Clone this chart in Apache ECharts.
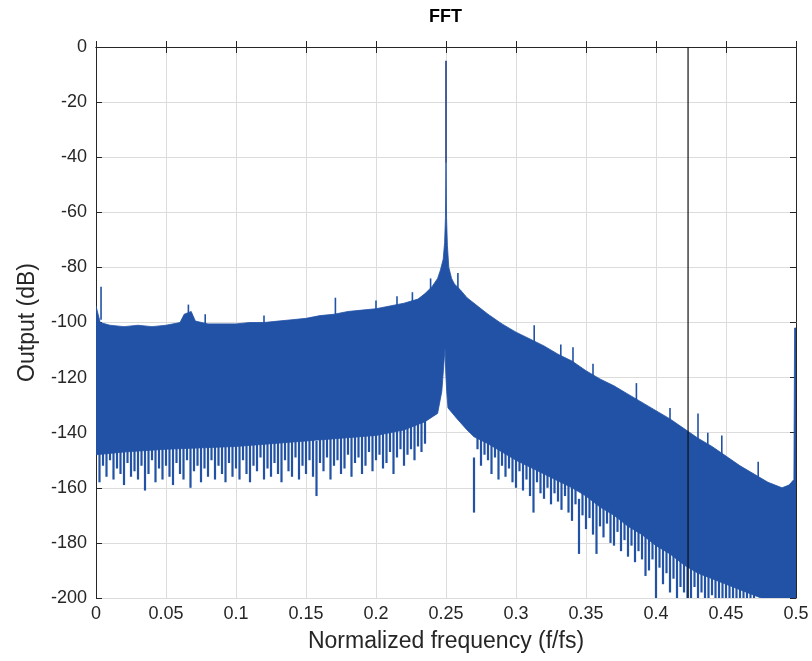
<!DOCTYPE html>
<html>
<head>
<meta charset="utf-8">
<script src="https://cdn.jsdelivr.net/npm/echarts@6/dist/echarts.min.js"></script>
<style>
html,body{margin:0;padding:0;background:#fff;}
#chart{width:812px;height:661px;}
</style>
</head>
<body>
<div id="chart"></div>
<script>
// ---- data ----
var titleText = 'FFT';
var xName = 'Normalized frequency (f/fs)';
var yName = 'Output (dB)';
var xTicks = [0, 0.05, 0.1, 0.15, 0.2, 0.25, 0.3, 0.35, 0.4, 0.45, 0.5];
var yTicks = [-200, -180, -160, -140, -120, -100, -80, -60, -40, -20, 0];

// upper envelope of the spectrum
var freqU = [0, 0.003, 0.01, 0.02, 0.03, 0.04, 0.05, 0.06, 0.063, 0.068, 0.071, 0.08, 0.09, 0.1, 0.11, 0.12, 0.13, 0.14, 0.15, 0.16, 0.17, 0.18, 0.19, 0.2, 0.21, 0.22, 0.23, 0.235, 0.24, 0.244, 0.246, 0.248, 0.249, 0.2496, 0.2499, 0.2501, 0.2504, 0.251, 0.252, 0.254, 0.256, 0.26, 0.265, 0.27, 0.28, 0.29, 0.3, 0.31, 0.32, 0.33, 0.34, 0.35, 0.36, 0.37, 0.38, 0.39, 0.4, 0.41, 0.42, 0.43, 0.44, 0.45, 0.46, 0.47, 0.48, 0.49, 0.495, 0.4985, 0.499, 0.5];
var upperU = [-94, -100, -101, -101.5, -101, -101.5, -101, -100, -97, -96, -99.5, -100.5, -100.5, -100.5, -100, -100, -99.5, -99, -98.5, -97.5, -97, -96, -95.5, -95, -94, -93, -91.5, -89.5, -87, -84, -81, -77, -71, -62, -42, -42, -62, -72, -80, -84, -86, -88, -91, -93, -97, -100.5, -103.5, -106, -108.5, -111.5, -114, -117.5, -120.5, -123, -126, -129, -132, -135, -138.5, -142, -145, -148.5, -152, -155, -158, -160, -159, -157, -102, -102];

// lower envelope of the spectrum
var freqL = [0, 0.02, 0.05, 0.1, 0.15, 0.2, 0.22, 0.235, 0.244, 0.247, 0.2485, 0.2493, 0.2498, 0.2505, 0.2514, 0.258, 0.265, 0.27, 0.28, 0.3, 0.32, 0.34, 0.35, 0.36, 0.37, 0.38, 0.39, 0.4, 0.41, 0.42, 0.43, 0.44, 0.45, 0.46, 0.47, 0.475, 0.5];
var lowerL = [-148, -147, -146, -145, -143, -141, -139, -136, -133, -125, -115, -109, -118, -125, -131, -135, -139, -141.5, -144, -150, -155, -160, -163, -167, -170, -174, -177, -181, -184, -188, -191, -193, -195, -197, -199, -200, -200];

// isolated upward spikes above the upper envelope
var upSpikeF = [0.0036, 0.066, 0.078, 0.12, 0.171, 0.2, 0.215, 0.226, 0.239, 0.2585, 0.313, 0.332, 0.3407, 0.355, 0.386, 0.41, 0.43, 0.437, 0.447, 0.473];
var upSpikeV = [-87, -93.5, -97, -97.5, -91, -92, -90.5, -89, -84, -82, -101, -108, -109, -115, -122, -131, -133, -140, -141, -150.5];

// downward spikes below the lower envelope, left of the tone (0.0025 .. 0.235)
var lowSpikeLeftStart = 0.0025;
var lowSpikeLeft = [
  -158, -152, -156, -150, -157, -153, -155, -159, -151, -156,
  -154, -157, -152, -161, -155, -150, -158, -153, -157, -152,
  -156, -159, -151, -155, -157, -150, -160, -154, -152, -158,
  -153, -156, -150, -157, -152, -155, -158, -151, -156, -153,
  -157, -150, -155, -158, -152, -154, -149, -157, -153, -156,
  -151, -155, -158, -150, -154, -156, -149, -157, -152, -155,
  -150, -156, -163, -151, -154, -149, -157, -152, -150, -155,
  -153, -148, -156, -151, -149, -155, -152, -147, -154, -150,
  -148, -153, -151, -147, -155, -149, -146, -152, -148, -146,
  -150, -145, -147, -144
];
// downward spikes right of the tone (0.27 .. 0.47)
var lowSpikeRightStart = 0.27;
var lowSpikeRight = [
  -169, -146, -152, -148, -150, -155, -149, -157, -152, -156,
  -153, -158, -160, -154, -161, -157, -163, -169, -158, -162,
  -164, -160, -166, -162, -165, -168, -163, -169, -172, -166,
  -184, -170, -175, -171, -177, -184, -174, -178, -173, -180,
  -181, -176, -183, -179, -185, -181, -187, -183, -186, -192,
  -190, -186, -200, -189, -195, -191, -198, -193, -200, -196,
  -198, -200, -200, -196, -200, -198, -200, -200, -199, -200,
  -200, -200, -200, -200, -200, -200, -200, -200, -200, -200, -200
];
var lowSpikeStep = 0.0025;

// carrier tone and the vertical cursor
var carrierFreq = 0.25;
var carrierLevel = -5;
var carrierBase = -42;
var cursorFreq = 0.4229;

// ---- chart ----
var FONT = "'Liberation Sans', Arial, Helvetica, sans-serif";
var BAND = '#2152a5';
var EDGE = '#1c3c85';

function spikeData(start, vals) {
  return vals.map(function (v, i) { return [+(start + i * lowSpikeStep).toFixed(5), v]; });
}
var lowSpikeData = spikeData(lowSpikeLeftStart, lowSpikeLeft).concat(spikeData(lowSpikeRightStart, lowSpikeRight));

var chart = echarts.init(document.getElementById('chart'), null, {renderer: 'canvas'});

function spikeItem(direction, len, color, width) {
  return function (params, api) {
    var f = api.value(0), v = api.value(1);
    var p1 = api.coord([f, v]);
    var p2 = api.coord([f, v + direction * len]);
    return {type: 'line', shape: {x1: p1[0], y1: p1[1], x2: p2[0], y2: p2[1]},
            style: {stroke: color, lineWidth: width}};
  };
}

var axisLineStyle = {color: '#262626', width: 1};
var option = {
  animation: false,
  backgroundColor: '#fff',
  title: {
    text: titleText, left: 424, top: 3,
    textStyle: {fontFamily: FONT, fontSize: 18, fontWeight: 'bold', color: '#000'}
  },
  grid: {left: 96, right: 16, top: 47, bottom: 63, containLabel: false},
  xAxis: [{
    type: 'value', min: xTicks[0], max: xTicks[xTicks.length - 1], interval: xTicks[1] - xTicks[0],
    name: xName, nameLocation: 'middle', nameGap: 32,
    nameTextStyle: {fontFamily: FONT, fontSize: 23, color: '#262626'},
    axisLine: {show: true, lineStyle: axisLineStyle},
    axisTick: {show: true, inside: true, length: 6, lineStyle: axisLineStyle},
    axisLabel: {fontFamily: FONT, fontSize: 18, color: '#262626', margin: 7},
    splitLine: {show: true, lineStyle: {color: '#dcdcdc', width: 1}}
  }, {
    type: 'value', position: 'top', min: xTicks[0], max: xTicks[xTicks.length - 1], interval: xTicks[1] - xTicks[0],
    axisLine: {show: true, onZero: false, lineStyle: axisLineStyle},
    axisTick: {show: true, inside: true, length: 6, lineStyle: axisLineStyle},
    axisLabel: {show: false}, splitLine: {show: false}
  }],
  yAxis: [{
    type: 'value', min: yTicks[0], max: yTicks[yTicks.length - 1], interval: yTicks[1] - yTicks[0],
    name: yName, nameLocation: 'middle', nameGap: 57,
    nameTextStyle: {fontFamily: FONT, fontSize: 23, color: '#262626'},
    axisLine: {show: true, lineStyle: axisLineStyle},
    axisTick: {show: true, inside: true, length: 6, lineStyle: axisLineStyle},
    axisLabel: {fontFamily: FONT, fontSize: 18, color: '#262626', margin: 9},
    splitLine: {show: true, lineStyle: {color: '#dcdcdc', width: 1}}
  }, {
    type: 'value', position: 'right', min: yTicks[0], max: yTicks[yTicks.length - 1], interval: yTicks[1] - yTicks[0],
    axisLine: {show: true, onZero: false, lineStyle: axisLineStyle},
    axisTick: {show: true, inside: true, length: 6, lineStyle: axisLineStyle},
    axisLabel: {show: false}, splitLine: {show: false}
  }],
  series: [
    {
      type: 'custom', name: 'lowSpikes', clip: true, z: 2,
      data: lowSpikeData,
      renderItem: spikeItem(1, 20, BAND, 2.2)
    },
    {
      type: 'custom', name: 'upSpikes', clip: true, z: 2,
      data: upSpikeF.map(function (f, i) { return [f, upSpikeV[i]]; }),
      renderItem: spikeItem(-1, 12, BAND, 1.6)
    },
    {
      type: 'custom', name: 'band', clip: true, z: 3,
      data: [[freqU[0], upperU[0]]],
      renderItem: function (params, api) {
        var pts = [];
        for (var i = 0; i < freqU.length; i++) pts.push(api.coord([freqU[i], upperU[i]]));
        for (var j = freqL.length - 1; j >= 0; j--) pts.push(api.coord([freqL[j], lowerL[j]]));
        return {type: 'polygon', shape: {points: pts},
                style: {fill: BAND, stroke: BAND, lineWidth: 0.8}};
      }
    },
    {
      type: 'line', name: 'carrier', symbol: 'none', z: 4,
      data: [[carrierFreq, carrierLevel], [carrierFreq, carrierBase]],
      lineStyle: {color: EDGE, width: 1.6}
    },
    {
      type: 'line', name: 'cursor', symbol: 'none', z: 5,
      data: [[cursorFreq, yTicks[yTicks.length - 1]], [cursorFreq, yTicks[0]]],
      lineStyle: {color: '#111111', width: 1.2}
    }
  ]
};
chart.setOption(option);
</script>
</body>
</html>
